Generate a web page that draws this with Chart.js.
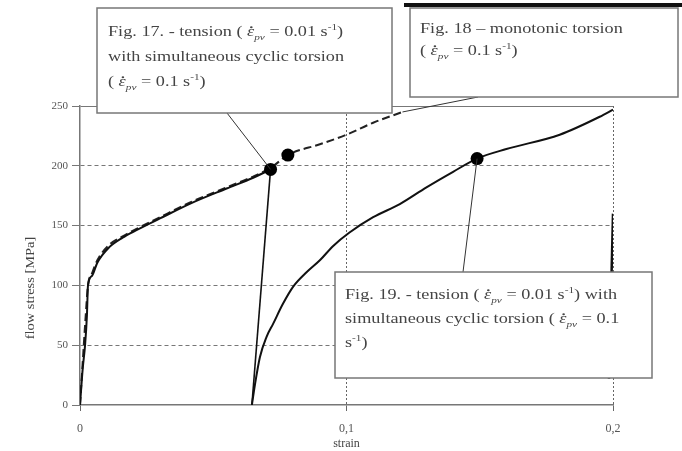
<!DOCTYPE html>
<html>
<head>
<meta charset="utf-8">
<script src="https://cdn.jsdelivr.net/npm/chart.js@4/dist/chart.umd.min.js"></script>
<style>
  html, body { margin: 0; padding: 0; background: #fff; }
</style>
</head>
<body>
<canvas id="chart" width="682" height="451"></canvas>
<script>
// values: strain [-], flow stress [MPa]
const tension17Strain = [0, 0.001, 0.0019, 0.0026, 0.003, 0.0045, 0.0065, 0.011, 0.016, 0.021, 0.03, 0.042, 0.055, 0.065, 0.0715];
const tension17Stress = [0, 30, 50, 75, 100, 108, 119, 132, 140, 146, 156, 169, 181, 190, 197];
const unload17Strain = [0.0715, 0.0645];
const unload17Stress = [197, 0];
const torsion18Strain = [0, 0.001, 0.002, 0.003, 0.0045, 0.0065, 0.011, 0.016, 0.021, 0.03, 0.042, 0.055, 0.065, 0.072, 0.078, 0.09, 0.1, 0.11, 0.121];
const torsion18Stress = [0, 35, 70, 100, 110, 121, 134, 141, 147, 157, 170, 182, 191, 199, 209, 218, 226, 236, 245];
const tension19Strain = [0.0645, 0.0655, 0.0675, 0.07, 0.0725, 0.076, 0.08, 0.085, 0.09, 0.095, 0.101, 0.11, 0.12, 0.13, 0.14, 0.149, 0.16, 0.18, 0.195, 0.2];
const tension19Stress = [0, 15, 40, 57, 68, 84, 99, 111, 121, 133, 144, 157, 168, 182, 195, 206, 214, 226, 241, 247];
const unload19Strain = [0.2, 0.1985];
const unload19Stress = [160, 22];
const endStrain = [0.0715, 0.078, 0.149];
const endStress = [197, 209, 206];
const xTicks = [0, 0.1, 0.2];
const xTickLabels = ["0", "0,1", "0,2"];
const yTicks = [0, 50, 100, 150, 200, 250];

const pts = (xs, ys) => xs.map((v, i) => ({ x: v, y: ys[i] }));

const serif = '"Liberation Serif", "Times New Roman", serif';

function line(ctx, x1, y1, x2, y2) {
  ctx.beginPath();
  ctx.moveTo(x1, y1);
  ctx.lineTo(x2, y2);
  ctx.stroke();
}

// text with subscripts / superscripts, stretched horizontally like the scan
function richText(ctx, x, y, parts, size, sx) {
  ctx.save();
  ctx.translate(x, y);
  ctx.scale(sx, 1);
  let cx = 0;
  parts.forEach(p => {
    const o = typeof p === "string" ? { t: p } : p;
    let fs = size, dy = 0;
    if (o.sub) { fs = size * 0.62; dy = size * 0.3; }
    if (o.sup) { fs = size * 0.62; dy = -size * 0.42; }
    ctx.font = (o.it ? "italic " : "") + fs + "px " + serif;
    ctx.fillText(o.t, cx, dy);
    const w = ctx.measureText(o.t).width;
    if (o.dot) {
      ctx.beginPath();
      ctx.arc(cx + w * 0.6, -size * 0.62, 1, 0, Math.PI * 2);
      ctx.fill();
    }
    cx += w;
  });
  ctx.restore();
}

const rate = [{ t: "ε", it: true, dot: true }, { t: "pv", sub: true, it: true }];
const notes = [
  { x: 108, lines: [
    [36, ["Fig. 17. - tension ( ", ...rate, " = 0.01 s", { t: "-1", sup: true }, ")"]],
    [61, ["with simultaneous cyclic torsion"]],
    [86, ["( ", ...rate, " = 0.1 s", { t: "-1", sup: true }, ")"]]
  ]},
  { x: 420, lines: [
    [33, ["Fig. 18 – monotonic torsion"]],
    [55, ["( ", ...rate, " = 0.1 s", { t: "-1", sup: true }, ")"]]
  ]},
  { x: 345, lines: [
    [299, ["Fig. 19. - tension ( ", ...rate, " = 0.01 s", { t: "-1", sup: true }, ") with"]],
    [323, ["simultaneous cyclic torsion ( ", ...rate, " = 0.1"]],
    [347, ["s", { t: "-1", sup: true }, ")"]]
  ]}
];

const notesPlugin = {
  id: "notes",
  afterDraw(chart) {
    const { ctx } = chart;
    const sx = chart.scales.x, sy = chart.scales.y;
    const px = (a, b) => [sx.getPixelForValue(a), sy.getPixelForValue(b)];
    ctx.save();

    // leader lines
    ctx.strokeStyle = "#333";
    ctx.lineWidth = 1;
    line(ctx, 227, 113, ...px(endStrain[0], endStress[0]));
    line(ctx, 478, 97, ...px(torsion18Strain[torsion18Strain.length - 1], torsion18Stress[torsion18Stress.length - 1]));
    line(ctx, 463, 272, ...px(endStrain[2], endStress[2]));

    // boxes
    const boxes = [[97, 8, 295, 105], [410, 8, 268, 89], [335, 272, 317, 106]];
    boxes.forEach(b => {
      ctx.fillStyle = "#fff";
      ctx.fillRect(b[0], b[1], b[2], b[3]);
      ctx.strokeStyle = "#777";
      ctx.lineWidth = 1.5;
      ctx.strokeRect(b[0], b[1], b[2], b[3]);
    });
    ctx.fillStyle = "#111";
    ctx.fillRect(404, 3, 278, 4);

    ctx.fillStyle = "#444";
    ctx.textBaseline = "alphabetic";
    ctx.textAlign = "left";
    notes.forEach(n => n.lines.forEach(l => richText(ctx, n.x, l[0], l[1], 14, 1.3)));

    // y axis title
    ctx.translate(31, 288);
    ctx.rotate(-Math.PI / 2);
    ctx.scale(1.2, 1);
    ctx.font = "12px " + serif;
    ctx.textAlign = "center";
    ctx.textBaseline = "middle";
    ctx.fillText("flow stress [MPa]", 0, 0);
    ctx.restore();
  }
};

new Chart(document.getElementById("chart"), {
  type: "scatter",
  data: {
    datasets: [
      { data: pts(endStrain, endStress), pointRadius: 6.5, pointBackgroundColor: "#000", pointBorderWidth: 0, showLine: false },
      { data: pts(tension17Strain, tension17Stress), showLine: true, borderColor: "#111", borderWidth: 2, pointRadius: 0, cubicInterpolationMode: "monotone" },
      { data: pts(unload17Strain, unload17Stress), showLine: true, borderColor: "#111", borderWidth: 1.6, pointRadius: 0 },
      { data: pts(torsion18Strain, torsion18Stress), showLine: true, borderColor: "#222", borderWidth: 2, borderDash: [8, 4], pointRadius: 0, cubicInterpolationMode: "monotone" },
      { data: pts(tension19Strain, tension19Stress), showLine: true, borderColor: "#111", borderWidth: 2, pointRadius: 0, cubicInterpolationMode: "monotone" },
      { data: pts(unload19Strain, unload19Stress), showLine: true, borderColor: "#111", borderWidth: 2.5, pointRadius: 0 }
    ]
  },
  options: {
    responsive: false,
    animation: false,
    layout: { padding: { left: 0, top: 106, right: 69, bottom: 0 } },
    plugins: { legend: { display: false }, tooltip: { enabled: false } },
    scales: {
      x: {
        type: "linear",
        min: 0,
        max: 0.2,
        afterBuildTicks: s => { s.ticks = xTicks.map(v => ({ value: v })); },
        afterFit: s => { s.height = 46; },
        ticks: {
          color: "#555",
          font: { family: serif, size: 12 },
          padding: 11,
          maxRotation: 0,
          callback: v => xTickLabels[xTicks.indexOf(v)]
        },
        grid: {
          color: c => (c.tick && c.tick.value === 0 ? "rgba(0,0,0,0)" : "#666"),
          lineWidth: 1,
          tickLength: 6,
          tickColor: "#666"
        },
        border: { color: "#777", width: 1.5, dash: [2, 2] },
        title: { display: true, text: "strain", color: "#444", font: { family: serif, size: 12 }, padding: { top: 0, bottom: 0 } }
      },
      y: {
        min: 0,
        max: 250,
        afterBuildTicks: s => { s.ticks = yTicks.map(v => ({ value: v })); },
        afterFit: s => { s.width = 80; },
        ticks: { color: "#555", font: { family: serif, size: 11 }, padding: 4 },
        grid: {
          color: c => (c.tick && c.tick.value === 0 ? "rgba(0,0,0,0)" : "#777"),
          lineWidth: 1,
          tickLength: 8,
          tickColor: "#777"
        },
        border: { color: "#777", width: 1.5, dash: c => (c.tick && c.tick.value === 250 ? [] : [4, 3]) }
      }
    }
  },
  plugins: [notesPlugin]
});
</script>
</body>
</html>
